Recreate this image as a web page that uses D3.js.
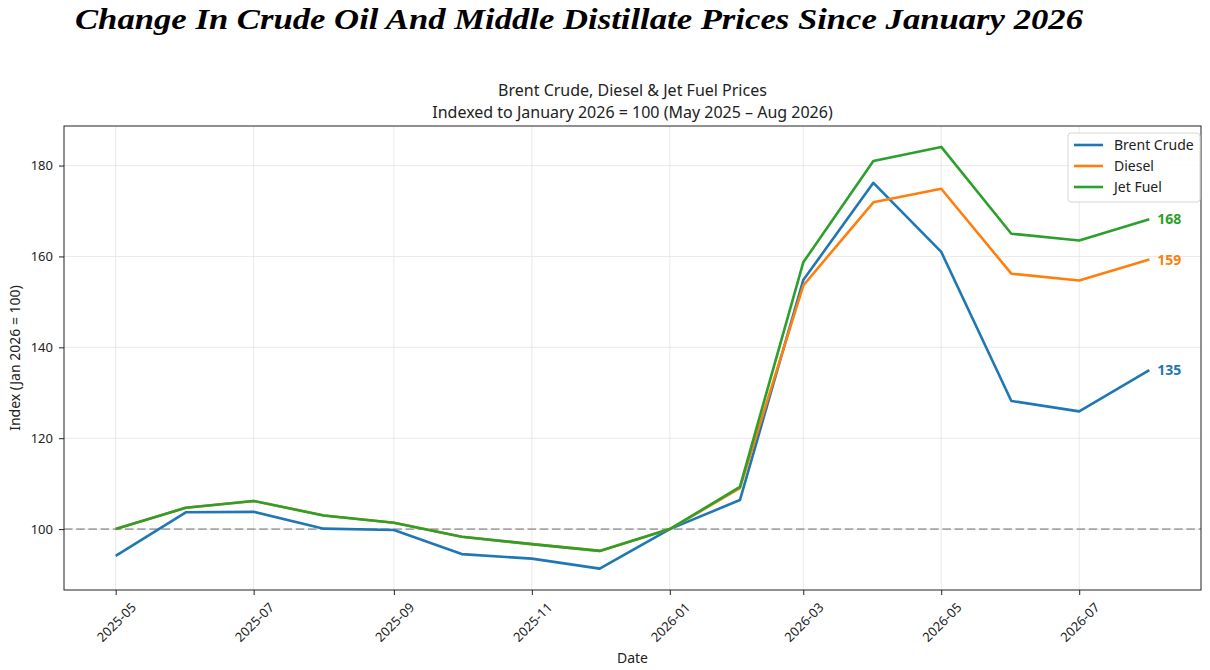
<!DOCTYPE html>
<html>
<head>
<meta charset="utf-8">
<script src="https://cdn.jsdelivr.net/npm/d3@7"></script>
<style>
  body { margin: 0; background: #fff; }
  svg { display: block; }
</style>
</head>
<body>
<svg id="chart" width="1210" height="670"></svg>
<script>
'use strict';

// months shown on the chart
var months = ['2025-05', '2025-06', '2025-07', '2025-08', '2025-09', '2025-10', '2025-11', '2025-12',
              '2026-01', '2026-02', '2026-03', '2026-04', '2026-05', '2026-06', '2026-07', '2026-08'];

// index values, Jan 2026 = 100
var brentValues  = [94.1, 103.7, 103.8, 100.1, 99.8, 94.5, 93.5, 91.3, 100, 106.4, 154.8, 176.2, 161.0, 128.2, 125.9, 135.0];
var dieselValues = [100, 104.7, 106.2, 103.0, 101.4, 98.3, 96.7, 95.2, 100, 109.0, 153.6, 171.9, 174.9, 156.2, 154.7, 159.3];
var jetValues    = [100, 104.7, 106.2, 103.0, 101.4, 98.3, 96.7, 95.2, 100, 109.3, 158.7, 181.0, 184.1, 165.0, 163.5, 168.2];

var seriesNames  = ['Brent Crude', 'Diesel', 'Jet Fuel'];
var seriesColors = ['#1f77b4', '#ff7f0e', '#2ca02c'];
var yTicks = [100, 120, 140, 160, 180];
var xTickMonths = ['2025-05', '2025-07', '2025-09', '2025-11', '2026-01', '2026-03', '2026-05', '2026-07'];

var FONT = '"Noto Sans", sans-serif';
var LEFT = 64, RIGHT = 1201, TOP = 126, BOTTOM = 590;

var parseMonth = d3.timeParse('%Y-%m');
var dates = months.map(parseMonth);

// matplotlib style 5% margins on the time axis
var t0 = dates[0].getTime(), t1 = dates[dates.length - 1].getTime();
var pad = (t1 - t0) * 0.05;
var x = d3.scaleTime()
    .domain([new Date(t0 - pad), new Date(t1 + pad)])
    .range([LEFT, RIGHT]);
var y = d3.scaleLinear()
    .domain([86.6, 188.7])
    .range([BOTTOM, TOP]);

var svg = d3.select('#chart');

// page title
svg.append('text')
    .attr('x', 75)
    .attr('y', 29)
    .attr('textLength', 1008)
    .attr('lengthAdjust', 'spacingAndGlyphs')
    .style('font-family', '"Liberation Serif", serif')
    .style('font-weight', 'bold')
    .style('font-style', 'italic')
    .style('font-size', '29px')
    .style('fill', '#000')
    .text('Change In Crude Oil And Middle Distillate Prices Since January 2026');

// chart title (two lines)
var sub = svg.append('text')
    .attr('text-anchor', 'middle')
    .style('font-family', FONT)
    .style('font-size', '16px')
    .style('fill', '#222');
sub.append('tspan').attr('x', (LEFT + RIGHT) / 2).attr('y', 96).text('Brent Crude, Diesel & Jet Fuel Prices');
sub.append('tspan').attr('x', (LEFT + RIGHT) / 2).attr('y', 118).text('Indexed to January 2026 = 100 (May 2025 \u2013 Aug 2026)');

// grid
var grid = svg.append('g').attr('class', 'grid');
grid.selectAll('line.gx')
    .data(xTickMonths.map(parseMonth))
    .enter().append('line')
    .attr('x1', function(d) { return x(d); })
    .attr('x2', function(d) { return x(d); })
    .attr('y1', TOP).attr('y2', BOTTOM)
    .style('stroke', '#e3e3e3').style('stroke-width', 0.8);
grid.selectAll('line.gy')
    .data(yTicks)
    .enter().append('line')
    .attr('x1', LEFT).attr('x2', RIGHT)
    .attr('y1', function(d) { return y(d); })
    .attr('y2', function(d) { return y(d); })
    .style('stroke', '#e3e3e3').style('stroke-width', 0.8);

// reference line at 100
svg.append('line')
    .attr('x1', LEFT).attr('x2', RIGHT)
    .attr('y1', y(100)).attr('y2', y(100))
    .style('stroke', '#a6a6a6')
    .style('stroke-width', 1.6)
    .style('stroke-dasharray', '8.5,3.7');

// lines
var allValues = [brentValues, dieselValues, jetValues];
var line = d3.line()
    .x(function(d, i) { return x(dates[i]); })
    .y(function(d) { return y(d); });

allValues.forEach(function(vals, k) {
    svg.append('path')
        .datum(vals)
        .attr('d', line)
        .style('fill', 'none')
        .style('stroke', seriesColors[k])
        .style('stroke-width', 2.6)
        .style('stroke-linejoin', 'round');
});

// end labels
allValues.forEach(function(vals, k) {
    var last = vals[vals.length - 1];
    svg.append('text')
        .attr('x', x(dates[dates.length - 1]) + 8)
        .attr('y', y(last))
        .attr('dy', '0.35em')
        .style('font-family', FONT)
        .style('font-size', '14px')
        .style('font-weight', 'bold')
        .style('fill', seriesColors[k])
        .text(Math.round(last));
});

// frame
svg.append('rect')
    .attr('x', LEFT).attr('y', TOP)
    .attr('width', RIGHT - LEFT).attr('height', BOTTOM - TOP)
    .style('fill', 'none').style('stroke', '#222').style('stroke-width', 1);

// y axis
var yAxis = svg.append('g')
    .attr('transform', 'translate(' + LEFT + ',0)')
    .call(d3.axisLeft(y).tickValues(yTicks).tickSize(5).tickPadding(6));
yAxis.select('.domain').remove();
yAxis.selectAll('text')
    .style('font-family', FONT).style('font-size', '13px').style('fill', '#222');
yAxis.selectAll('line').style('stroke', '#222');

// x axis
var xAxis = svg.append('g')
    .attr('transform', 'translate(0,' + BOTTOM + ')')
    .call(d3.axisBottom(x)
        .tickValues(xTickMonths.map(parseMonth))
        .tickFormat(d3.timeFormat('%Y-%m'))
        .tickSize(5));
xAxis.select('.domain').remove();
xAxis.selectAll('line').style('stroke', '#222');
xAxis.selectAll('text')
    .attr('y', 0).attr('dy', 0)
    .attr('text-anchor', 'middle')
    .attr('dominant-baseline', 'central')
    .attr('transform', 'translate(0,32) rotate(-45)')
    .style('font-family', FONT).style('font-size', '13px').style('fill', '#222');

// axis titles
svg.append('text')
    .attr('x', (LEFT + RIGHT) / 2)
    .attr('y', 663)
    .attr('text-anchor', 'middle')
    .style('font-family', FONT).style('font-size', '14px').style('fill', '#222')
    .text('Date');
svg.append('text')
    .attr('transform', 'translate(20,' + ((TOP + BOTTOM) / 2) + ') rotate(-90)')
    .attr('text-anchor', 'middle')
    .style('font-family', FONT).style('font-size', '14px').style('fill', '#222')
    .text('Index (Jan 2026 = 100)');

// legend
var legend = svg.append('g').attr('transform', 'translate(1068,133)');
legend.append('rect')
    .attr('width', 132).attr('height', 69)
    .attr('rx', 3).attr('ry', 3)
    .style('fill', 'rgba(255,255,255,0.85)')
    .style('stroke', '#d6d6d6').style('stroke-width', 1);
seriesNames.forEach(function(name, k) {
    var ly = 12 + k * 21;
    legend.append('line')
        .attr('x1', 6).attr('x2', 35)
        .attr('y1', ly).attr('y2', ly)
        .style('stroke', seriesColors[k]).style('stroke-width', 2.6);
    legend.append('text')
        .attr('x', 46).attr('y', ly)
        .attr('dy', '0.35em')
        .style('font-family', FONT).style('font-size', '14px').style('fill', '#222')
        .text(name);
});
</script>
</body>
</html>
